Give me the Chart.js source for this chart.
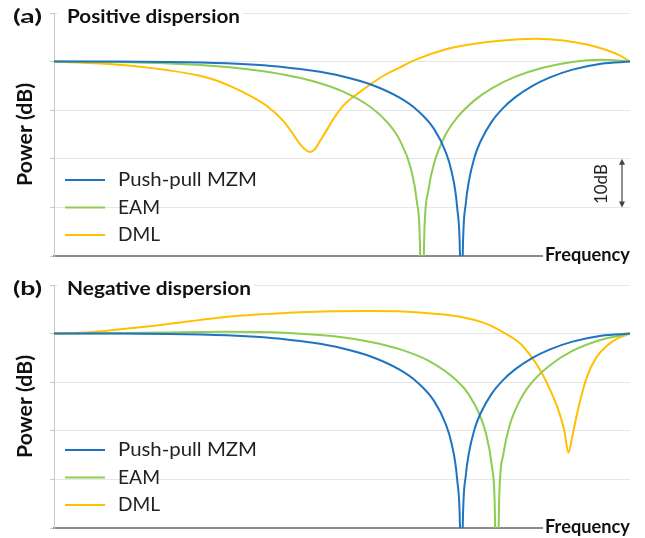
<!DOCTYPE html>
<html>
<head>
<meta charset="utf-8">
<script src="https://cdn.jsdelivr.net/npm/chart.js@4.4.1/dist/chart.umd.min.js"></script>
<style>
  body { margin: 0; background: #fff; }
  canvas { position: absolute; left: 0; }
  #chartA { top: 0; }
  #chartB { top: 270px; }
</style>
</head>
<body>
<canvas id="chartA" width="645" height="268"></canvas>
<canvas id="chartB" width="645" height="268"></canvas>
<script>
// series names
var seriesNames = ['Push-pull MZM', 'EAM', 'DML'];
var seriesColors = ['#1f74c2', '#8fcd52', '#ffc000'];

// y axis (dB), one grid line every 10 dB
var yMin = -40, yMax = 10, yStep = 10;

// push-pull MZM (same in both panels): frequency (normalised) and power (dB)
var freqMzm = [0, 0.1, 0.2, 0.3, 0.35, 0.4, 0.45, 0.5, 0.55, 0.6, 0.63, 0.66, 0.68, 0.69, 0.7, 0.705, 0.7071, 0.71, 0.715, 0.72, 0.73, 0.74, 0.76, 0.78, 0.8, 0.83, 0.86, 0.9, 0.95, 1];
var powerMzm = [0, 0, -0.07, -0.35, -0.66, -1.15, -1.89, -3.01, -4.71, -7.42, -9.94, -13.9, -18.6, -22.5, -30.1, -40.5, -60, -37.8, -29.1, -24.8, -19.7, -16.55, -12.35, -9.52, -7.42, -5.05, -3.3, -1.65, -0.42, 0];

// (a) positive dispersion
var freqEamPos = [0, 0.1, 0.2, 0.3, 0.35, 0.4, 0.45, 0.5, 0.55, 0.58, 0.6, 0.62, 0.63, 0.635, 0.6388, 0.643, 0.65, 0.66, 0.68, 0.7, 0.73, 0.76, 0.8, 0.85, 0.9, 0.95, 1];
var powerEamPos = [0, -0.08, -0.4, -1.13, -1.77, -2.7, -4.04, -6.07, -9.38, -12.66, -16.1, -22.2, -28.8, -36.1, -60, -35.0, -26.5, -20.9, -15.0, -11.5, -7.98, -5.5, -3.15, -1.2, -0.06, 0.37, 0];
var freqDmlPos = [0, 0.08, 0.137, 0.196, 0.253, 0.282, 0.311, 0.34, 0.369, 0.398, 0.415, 0.427, 0.439, 0.445, 0.453, 0.462, 0.473, 0.485, 0.502, 0.526, 0.554, 0.578, 0.601, 0.624, 0.682, 0.74, 0.797, 0.838, 0.884, 0.925, 0.96, 0.983, 1];
var powerDmlPos = [0, -0.4, -0.9, -1.75, -2.9, -3.9, -5.3, -7.0, -9.1, -12.2, -14.9, -17.0, -18.35, -18.6, -18.0, -16.3, -14.2, -11.8, -9.1, -6.7, -4.3, -2.5, -1.2, 0.2, 2.6, 3.85, 4.5, 4.7, 4.35, 3.5, 2.35, 1.25, 0];

// (b) negative dispersion
var freqEamNeg = [0, 0.1, 0.2, 0.3, 0.4, 0.5, 0.55, 0.6, 0.65, 0.7, 0.72, 0.74, 0.75, 0.76, 0.765, 0.769, 0.773, 0.78, 0.79, 0.81, 0.83, 0.86, 0.9, 0.95, 1];
var powerEamNeg = [0, 0.08, 0.25, 0.36, 0.15, -0.77, -1.72, -3.2, -5.58, -9.75, -12.5, -17.0, -20.6, -27.1, -34.4, -60, -33.4, -24.9, -19.3, -13.5, -10.0, -6.6, -3.57, -1.27, 0];
var freqDmlNeg = [0, 0.0625, 0.12, 0.178, 0.236, 0.294, 0.352, 0.41, 0.468, 0.549, 0.606, 0.664, 0.711, 0.751, 0.78, 0.809, 0.827, 0.844, 0.861, 0.875, 0.886, 0.893, 0.9, 0.911, 0.925, 0.941, 0.96, 0.98, 1];
var powerDmlNeg = [0, 0.27, 0.97, 1.65, 2.54, 3.36, 3.92, 4.3, 4.55, 4.65, 4.55, 4.05, 3.3, 2.0, 0.27, -2.0, -4.5, -7.5, -11.5, -15.5, -20, -24.5, -21, -15, -9, -5, -2.5, -0.9, 0];

function points(xs, ys) {
  return xs.map(function (x, i) { return { x: x, y: ys[i] }; });
}

var FONT = 'Lato, "Open Sans", sans-serif';

// draw text squeezed/stretched to a given width (reference uses a Calibri-like face)
function fitText(ctx, text, x, y, width, align) {
  var w = ctx.measureText(text).width;
  var s = width / w;
  ctx.save();
  ctx.translate(x, y);
  ctx.scale(s, 1);
  ctx.textAlign = 'left';
  var x0 = align === 'right' ? -w : (align === 'center' ? -w / 2 : 0);
  ctx.fillText(text, x0, 0);
  ctx.restore();
}

var overlay = {
  id: 'overlay',
  afterDraw: function (chart, args, opts) {
    var ctx = chart.ctx;
    var area = chart.chartArea;
    ctx.save();
    ctx.textBaseline = 'middle';

    // panel tag + title (title sits on a white patch over the top grid line)
    ctx.font = 'bold 19px ' + FONT;
    ctx.fillStyle = '#111';
    fitText(ctx, opts.tag, 13, area.top + 4, 29);
    ctx.fillStyle = '#fff';
    ctx.fillRect(area.left + 4, area.top - 3, opts.titleWidth + 12, 6);
    ctx.fillStyle = '#111';
    fitText(ctx, opts.title, area.left + 13, area.top + 4, opts.titleWidth);

    // y axis title
    ctx.save();
    ctx.translate(26, (area.top + area.bottom) / 2);
    ctx.rotate(-Math.PI / 2);
    ctx.font = 'bold 20px ' + FONT;
    fitText(ctx, 'Power (dB)', 0, 0, 103, 'center');
    ctx.restore();

    // x axis label at the right end of the axis
    ctx.font = 'bold 18px ' + FONT;
    ctx.fillStyle = '#fff';
    ctx.fillRect(area.right - 87, area.bottom - 3, 92, 6);
    ctx.fillStyle = '#111';
    fitText(ctx, 'Frequency', area.right, area.bottom - 1, 85, 'right');

    // legend
    ctx.font = '19px ' + FONT;
    var legendWidths = [139, 42, 42];
    chart.data.datasets.forEach(function (ds, i) {
      var y = opts.legendY + i * 27.5;
      ctx.strokeStyle = ds.borderColor;
      ctx.lineWidth = 2;
      ctx.beginPath();
      ctx.moveTo(65, y);
      ctx.lineTo(105, y);
      ctx.stroke();
      ctx.fillStyle = '#222';
      fitText(ctx, ds.label, 118, y, legendWidths[i]);
    });

    // 10 dB scale marker
    if (opts.scaleBar) {
      var ys = chart.scales.y;
      var y1 = ys.getPixelForValue(-20), y2 = ys.getPixelForValue(-30);
      var ax = 622;
      ctx.strokeStyle = '#444';
      ctx.fillStyle = '#444';
      ctx.lineWidth = 1.2;
      ctx.beginPath();
      ctx.moveTo(ax, y1 + 3);
      ctx.lineTo(ax, y2 - 3);
      ctx.stroke();
      ctx.beginPath();
      ctx.moveTo(ax, y1); ctx.lineTo(ax - 3, y1 + 6); ctx.lineTo(ax + 3, y1 + 6); ctx.closePath();
      ctx.moveTo(ax, y2); ctx.lineTo(ax - 3, y2 - 6); ctx.lineTo(ax + 3, y2 - 6); ctx.closePath();
      ctx.fill();
      ctx.save();
      ctx.translate(602, (y1 + y2) / 2 + 1);
      ctx.rotate(-Math.PI / 2);
      ctx.font = '17px ' + FONT;
      ctx.fillStyle = '#222';
      fitText(ctx, '10dB', 0, 0, 40, 'center');
      ctx.restore();
    }
    ctx.restore();
  }
};

function makeChart(id, mzm, eam, dml, opts, padding) {
  var sets = [mzm, eam, dml].map(function (pts, i) {
    return {
      label: seriesNames[i],
      data: pts,
      borderColor: seriesColors[i],
      borderWidth: 2,
      pointRadius: 0,
      cubicInterpolationMode: 'monotone',
      fill: false
    };
  });
  return new Chart(document.getElementById(id), {
    type: 'line',
    data: { datasets: sets },
    options: {
      responsive: false,
      animation: false,
      devicePixelRatio: 1,
      layout: { padding: padding },
      plugins: {
        legend: { display: false },
        tooltip: { enabled: false },
        overlay: opts
      },
      scales: {
        x: {
          type: 'linear', min: 0, max: 1,
          ticks: { display: false },
          grid: { display: false },
          border: { display: true, color: '#8c8c8c', width: 2 }
        },
        y: {
          min: yMin, max: yMax,
          ticks: { display: false, stepSize: yStep },
          grid: { color: '#e6e6e6', tickColor: '#c8c8c8', tickLength: 4, lineWidth: 1 },
          border: { display: true, color: '#c8c8c8', width: 1 }
        }
      }
    },
    plugins: [overlay]
  });
}

makeChart('chartA', points(freqMzm, powerMzm), points(freqEamPos, powerEamPos), points(freqDmlPos, powerDmlPos),
  { tag: '(a)', title: 'Positive dispersion', titleWidth: 173, legendY: 180, scaleBar: true },
  { left: 50, right: 15, top: 13, bottom: 4 });

makeChart('chartB', points(freqMzm, powerMzm), points(freqEamNeg, powerEamNeg), points(freqDmlNeg, powerDmlNeg),
  { tag: '(b)', title: 'Negative dispersion', titleWidth: 184, legendY: 180, scaleBar: false },
  { left: 50, right: 15, top: 15, bottom: 2 });
</script>
</body>
</html>
